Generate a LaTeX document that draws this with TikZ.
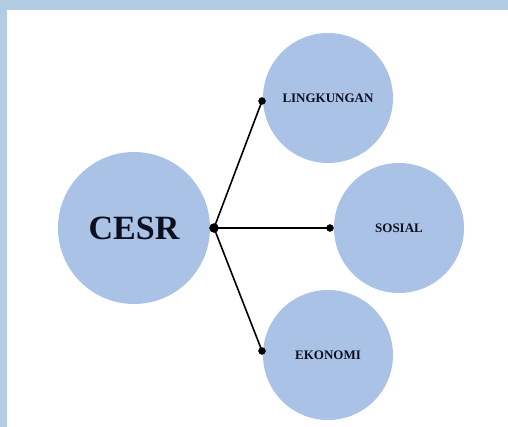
\documentclass[tikz,border=0pt]{standalone}
\usepackage{fontspec}
\setmainfont{Liberation Serif}
\definecolor{bgblue}{RGB}{178,204,228}
\definecolor{bubblue}{RGB}{169,194,230}
\definecolor{inkblue}{RGB}{14,15,30}
\tikzset{
  bubble/.style={circle, fill=bubblue, inner sep=0pt, text=inkblue, font=\bfseries\fontsize{13}{15}\selectfont},
  spoke/.style={line width=1.6pt, black}
}
\begin{document}
\begin{tikzpicture}[x=1pt,y=-1pt]
\useasboundingbox (0,0) rectangle (508,427);
\fill[bgblue] (0,0) rectangle (508,427);
\fill[white] (7,10) rectangle (508,427);
\node[bubble, minimum size=152pt, font=\bfseries\fontsize{34}{38}\selectfont] (cesr) at (134,228) {CESR};
\node[bubble, minimum size=130pt] (lingkungan) at (328,98) {LINGKUNGAN};
\node[bubble, minimum size=130pt] (sosial) at (399,228) {SOSIAL};
\node[bubble, minimum size=130pt] (ekonomi) at (328,355) {EKONOMI};
\coordinate (hub) at (214,228);
\coordinate (toL) at (262,101);
\coordinate (toS) at (330,228);
\coordinate (toE) at (262,351);
\draw[spoke] (hub) -- (toL);
\draw[spoke] (hub) -- (toS);
\draw[spoke] (hub) -- (toE);
\filldraw[black] (hub) circle (4.5pt);
\filldraw[black] (toL) circle (3.5pt);
\filldraw[black] (toS) circle (3.5pt);
\filldraw[black] (toE) circle (3.5pt);
\end{tikzpicture}
\end{document}
